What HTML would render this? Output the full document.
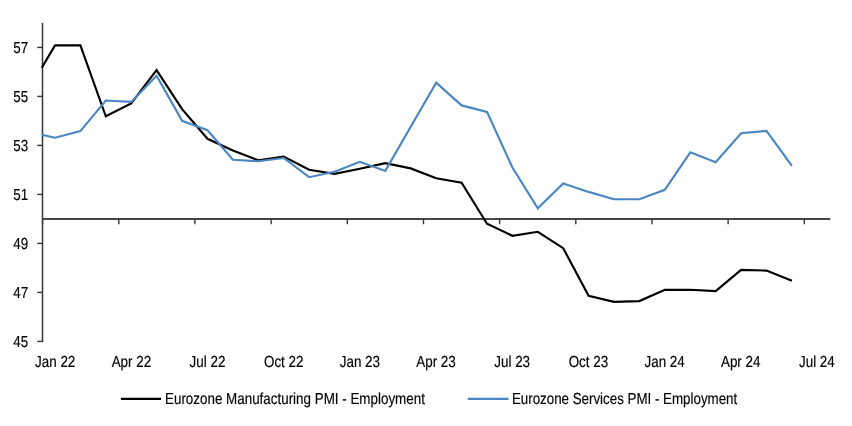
<!DOCTYPE html>
<html><head><meta charset="utf-8"><title>Eurozone PMI - Employment</title>
<style>
html,body{margin:0;padding:0;background:#fff;}
body{width:852px;height:426px;overflow:hidden;}
svg{display:block;}
text{font-family:"Liberation Sans",Arial,sans-serif;font-size:16px;fill:#000;stroke:#000;stroke-width:0.16px;}
</style></head><body>
<svg width="852" height="426" viewBox="0 0 852 426">
<rect width="852" height="426" fill="#fff"/>
<g stroke="#363636" fill="none">
<line x1="42.5" y1="23.1" x2="42.5" y2="342.1" stroke-width="1.5"/>
<line x1="42.3" y1="219.0" x2="830.3" y2="219.0" stroke-width="1.9" stroke="#484848"/>
<line x1="37.3" y1="47.4" x2="42.5" y2="47.4" stroke-width="1.4"/>
<line x1="37.3" y1="96.4" x2="42.5" y2="96.4" stroke-width="1.4"/>
<line x1="37.3" y1="145.4" x2="42.5" y2="145.4" stroke-width="1.4"/>
<line x1="37.3" y1="194.4" x2="42.5" y2="194.4" stroke-width="1.4"/>
<line x1="37.3" y1="243.4" x2="42.5" y2="243.4" stroke-width="1.4"/>
<line x1="37.3" y1="292.4" x2="42.5" y2="292.4" stroke-width="1.4"/>
<line x1="37.3" y1="341.4" x2="42.5" y2="341.4" stroke-width="1.4"/>
<line x1="42.6" y1="218.95" x2="42.6" y2="224.2" stroke-width="1.4"/>
<line x1="118.8" y1="218.95" x2="118.8" y2="224.2" stroke-width="1.4"/>
<line x1="194.9" y1="218.95" x2="194.9" y2="224.2" stroke-width="1.4"/>
<line x1="271.1" y1="218.95" x2="271.1" y2="224.2" stroke-width="1.4"/>
<line x1="347.3" y1="218.95" x2="347.3" y2="224.2" stroke-width="1.4"/>
<line x1="423.5" y1="218.95" x2="423.5" y2="224.2" stroke-width="1.4"/>
<line x1="499.6" y1="218.95" x2="499.6" y2="224.2" stroke-width="1.4"/>
<line x1="575.8" y1="218.95" x2="575.8" y2="224.2" stroke-width="1.4"/>
<line x1="652.0" y1="218.95" x2="652.0" y2="224.2" stroke-width="1.4"/>
<line x1="728.1" y1="218.95" x2="728.1" y2="224.2" stroke-width="1.4"/>
<line x1="804.3" y1="218.95" x2="804.3" y2="224.2" stroke-width="1.4"/>
</g>
<text transform="translate(13.2,52.6) rotate(0.03) scale(0.838,1)">57</text>
<text transform="translate(13.2,101.6) rotate(0.03) scale(0.838,1)">55</text>
<text transform="translate(13.2,150.6) rotate(0.03) scale(0.838,1)">53</text>
<text transform="translate(13.2,199.6) rotate(0.03) scale(0.838,1)">51</text>
<text transform="translate(13.2,248.6) rotate(0.03) scale(0.838,1)">49</text>
<text transform="translate(13.2,297.6) rotate(0.03) scale(0.838,1)">47</text>
<text transform="translate(13.2,346.6) rotate(0.03) scale(0.838,1)">45</text>
<text transform="translate(55.2,366.8) rotate(0.03) scale(0.838,1)" text-anchor="middle">Jan 22</text>
<text transform="translate(131.4,366.8) rotate(0.03) scale(0.838,1)" text-anchor="middle">Apr 22</text>
<text transform="translate(207.5,366.8) rotate(0.03) scale(0.838,1)" text-anchor="middle">Jul 22</text>
<text transform="translate(283.7,366.8) rotate(0.03) scale(0.838,1)" text-anchor="middle">Oct 22</text>
<text transform="translate(359.9,366.8) rotate(0.03) scale(0.838,1)" text-anchor="middle">Jan 23</text>
<text transform="translate(436.0,366.8) rotate(0.03) scale(0.838,1)" text-anchor="middle">Apr 23</text>
<text transform="translate(512.2,366.8) rotate(0.03) scale(0.838,1)" text-anchor="middle">Jul 23</text>
<text transform="translate(588.4,366.8) rotate(0.03) scale(0.838,1)" text-anchor="middle">Oct 23</text>
<text transform="translate(664.6,366.8) rotate(0.03) scale(0.838,1)" text-anchor="middle">Jan 24</text>
<text transform="translate(740.7,366.8) rotate(0.03) scale(0.838,1)" text-anchor="middle">Apr 24</text>
<text transform="translate(816.9,366.8) rotate(0.03) scale(0.838,1)" text-anchor="middle">Jul 24</text>
<polyline points="41.8,67.8 55.0,45.4 80.4,45.4 105.8,116.3 131.2,103.4 156.6,70.1 182.1,109.1 207.5,138.8 232.9,150.4 258.3,160.2 283.7,156.5 309.1,169.7 334.5,173.9 359.9,168.8 385.3,163.2 410.7,168.4 436.2,178.3 461.6,182.8 487.0,223.7 512.4,235.8 537.8,231.8 563.2,248.2 588.6,295.8 614.0,301.8 639.4,301.1 664.8,289.8 690.3,289.8 715.7,291.1 741.1,269.9 766.5,270.6 791.9,280.8" fill="none" stroke="#000" stroke-width="2.15" stroke-linejoin="miter" stroke-linecap="butt"/>
<polyline points="41.8,134.8 55.0,137.7 80.4,131.1 105.8,100.5 131.2,101.9 156.6,75.8 182.1,120.8 207.5,130.2 232.9,159.8 258.3,161.2 283.7,158.0 309.1,177.2 334.5,171.8 359.9,161.8 385.3,170.9 410.7,126.8 436.2,82.8 461.6,105.4 487.0,111.9 512.4,167.5 537.8,208.3 563.2,183.5 588.6,191.9 614.0,199.2 639.4,199.2 664.8,189.8 690.3,152.3 715.7,162.2 741.1,133.2 766.5,130.9 791.9,165.8" fill="none" stroke="#4a86c1" stroke-width="2.15" stroke-linejoin="miter" stroke-linecap="butt"/>
<line x1="120.9" y1="398.85" x2="161.1" y2="398.85" stroke="#000" stroke-width="2.3"/>
<text transform="translate(165.0,403.8) rotate(0.03) scale(0.838,1)">Eurozone Manufacturing PMI - Employment</text>
<line x1="467.8" y1="398.85" x2="508.5" y2="398.85" stroke="#4a86c1" stroke-width="2.3"/>
<text transform="translate(511.9,403.8) rotate(0.03) scale(0.8345,1)">Eurozone Services PMI - Employment</text>
</svg></body></html>
